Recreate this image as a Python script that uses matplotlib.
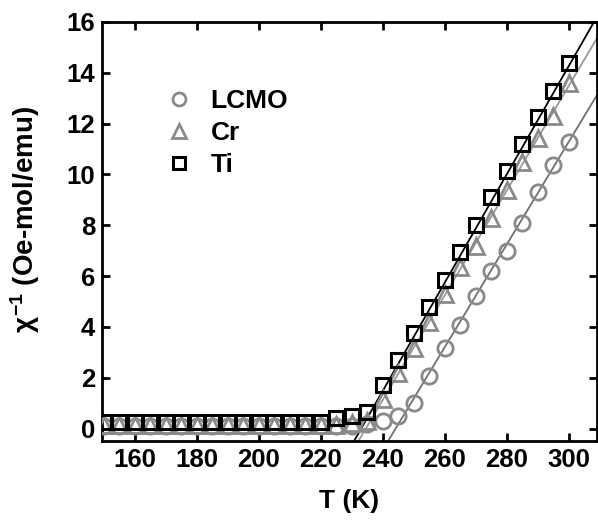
import numpy as np
import matplotlib
matplotlib.use('Agg')
import matplotlib.pyplot as plt

plt.rcParams['font.family'] = ['Liberation Sans', 'DejaVu Sans']
plt.rcParams['font.weight'] = 'bold'
plt.rcParams['mathtext.fontset'] = 'custom'
plt.rcParams['mathtext.rm'] = 'Liberation Sans:bold'
plt.rcParams['mathtext.it'] = 'Liberation Sans:bold'

# ── data ────────────────────────────────────────────────────────────────────
T_all = np.arange(150, 301, 5)   # 31 temperatures

ti_chi = [0.25, 0.25, 0.25, 0.25, 0.25, 0.25, 0.25, 0.25, 0.25, 0.25,
          0.25, 0.24, 0.24, 0.24, 0.24,            # 150-220
          0.4, 0.5, 0.65,                          # 225-235
          1.73, 2.7, 3.76, 4.8, 5.85, 6.93, 8.0, 9.1, 10.15, 11.2,
          12.27, 13.3, 14.4]                       # 240-300
cr_chi = [0.15, 0.15, 0.15, 0.15, 0.15, 0.15, 0.15, 0.15, 0.15, 0.15,
          0.15, 0.14, 0.14, 0.14, 0.14,
          0.15, 0.2, 0.3,
          1.15, 2.19, 3.17, 4.2, 5.3, 6.35, 7.2, 8.3, 9.4, 10.5,
          11.45, 12.3, 13.6]
lcmo_chi = [0.1, 0.1, 0.1, 0.1, 0.1, 0.1, 0.1, 0.1, 0.1, 0.1,
            0.1, 0.1, 0.1, 0.1, 0.1,
            0.1, 0.1, 0.17,
            0.3, 0.5, 1.02, 2.06, 3.17, 4.08, 5.2, 6.18, 7.0, 8.1,
            9.3, 10.35, 11.26]

# Curie-Weiss fits: chi^-1 = slope * (T - theta)
fit_slope = {'LCMO': 0.202, 'Cr': 0.206, 'Ti': 0.213}
fit_theta = {'LCMO': 244.1, 'Cr': 234.5, 'Ti': 233.0}

XLIM = (149.5, 309)
YLIM = (-0.5, 16)

fig = plt.figure(figsize=(5.98, 5.21), dpi=100)
ax = fig.add_axes([0.171, 0.153, 0.827, 0.805])

# fit lines
T_fit = np.linspace(225, XLIM[1], 200)
line_col = {'LCMO': '#707070', 'Cr': '#9a9a9a', 'Ti': 'black'}
for name in ['LCMO', 'Cr', 'Ti']:
    ax.plot(T_fit, fit_slope[name] * (T_fit - fit_theta[name]),
            color=line_col[name], linewidth=1.3, zorder=2)

ax.plot(T_all, lcmo_chi, 'o', ms=11, mfc='none', mec='#8a8a8a', mew=2,
        label='LCMO', zorder=3)
ax.plot(T_all, cr_chi, '^', ms=12, mfc='none', mec='#8a8a8a', mew=2,
        label='Cr', zorder=3)
ax.plot(T_all, ti_chi, 's', ms=10.5, mfc='none', mec='black', mew=2.2,
        label='Ti', zorder=4)

ax.set_xlim(*XLIM)
ax.set_ylim(*YLIM)
ax.set_xticks(np.arange(160, 301, 20))
ax.set_yticks(np.arange(0, 17, 2))
ax.tick_params(direction='in', top=True, right=True, length=6, width=2,
               labelsize=18.5, pad=5)
for lbl in ax.get_xticklabels() + ax.get_yticklabels():
    lbl.set_fontweight('bold')
for sp in ax.spines.values():
    sp.set_linewidth(2)

ax.set_xlabel('T (K)', fontsize=19, fontweight='bold', labelpad=12)
ax.set_ylabel(r'$\chi^{-1}$ (Oe-mol/emu)', fontsize=20, fontweight='bold')
ax.yaxis.set_label_coords(-0.122, 0.53)

leg = ax.legend(loc='center left', bbox_to_anchor=(0.075, 0.735), frameon=False,
                fontsize=19, handletextpad=0.6, labelspacing=0.3,
                handlelength=1.2, markerscale=0.85)

fig.savefig('out.png', dpi=100)
